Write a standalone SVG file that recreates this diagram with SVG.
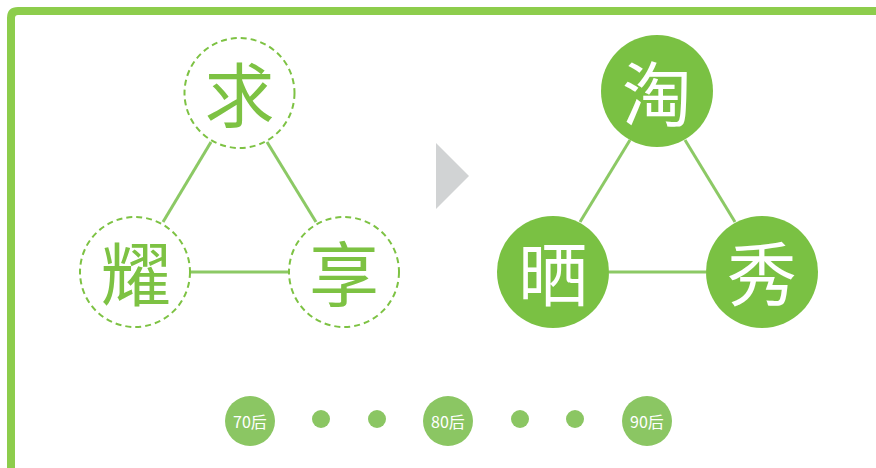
<svg xmlns="http://www.w3.org/2000/svg" width="876" height="468" viewBox="0 0 876 468">
<style>
.big{font-family:"Noto Sans CJK SC","Noto Sans",sans-serif;font-size:70px;text-anchor:middle;dominant-baseline:central}
.g{fill:#7dc243}
.w{fill:#ffffff}
.dash{fill:#fff;stroke:#7dc243;stroke-width:2;stroke-dasharray:6 4}
.solid{fill:#7ac143}
.ln{stroke:#8cc965;stroke-width:3;fill:none}
.era{fill:#8bc663}
.lbl{font-family:"Noto Sans CJK SC","Noto Sans",sans-serif;font-size:16px;fill:#fff;text-anchor:middle;dominant-baseline:central}
</style>
<path d="M11 468 V18 Q11 11 18 11 H876" fill="none" stroke="#8dcd4c" stroke-width="8"/>
<g id="connectors">
<line class="ln" x1="211" y1="142" x2="163" y2="222"/>
<line class="ln" x1="267" y1="142" x2="316" y2="222"/>
<line class="ln" x1="190" y1="272" x2="289" y2="272"/>
<line class="ln" x1="630" y1="140" x2="580" y2="222"/>
<line class="ln" x1="685" y1="140" x2="735" y2="222"/>
<line class="ln" x1="609" y1="272" x2="706" y2="272"/>
</g>
<g id="n-qiu"><circle class="dash" cx="239.5" cy="93" r="55"/><text class="big g" x="239.5" y="91">求</text></g>
<g id="n-yao"><circle class="dash" cx="135" cy="272" r="55"/><text class="big g" x="136" y="270">耀</text></g>
<g id="n-xiang"><circle class="dash" cx="344" cy="272" r="55"/><text class="big g" x="344" y="270">享</text></g>
<g id="arrow"><polygon points="436,143 436,209 469,176" fill="#d1d3d4"/></g>
<g id="n-tao"><circle class="solid" cx="657" cy="91" r="56"/><text class="big w" x="657" y="90">淘</text></g>
<g id="n-shai"><circle class="solid" cx="553" cy="272" r="56"/><text class="big w" x="553" y="270">晒</text></g>
<g id="n-xiu"><circle class="solid" cx="762" cy="272" r="56"/><text class="big w" x="762" y="270">秀</text></g>
<g id="e70"><circle class="era" cx="250" cy="421" r="25"/><text class="lbl" x="250" y="421">70后</text></g>
<g id="d1"><circle class="era" cx="321" cy="419" r="9"/></g>
<g id="d2"><circle class="era" cx="377" cy="419" r="9"/></g>
<g id="e80"><circle class="era" cx="448" cy="421" r="25"/><text class="lbl" x="448" y="421">80后</text></g>
<g id="d3"><circle class="era" cx="520" cy="419" r="9"/></g>
<g id="d4"><circle class="era" cx="575" cy="419" r="9"/></g>
<g id="e90"><circle class="era" cx="647" cy="421" r="25"/><text class="lbl" x="647" y="421">90后</text></g>
</svg>
